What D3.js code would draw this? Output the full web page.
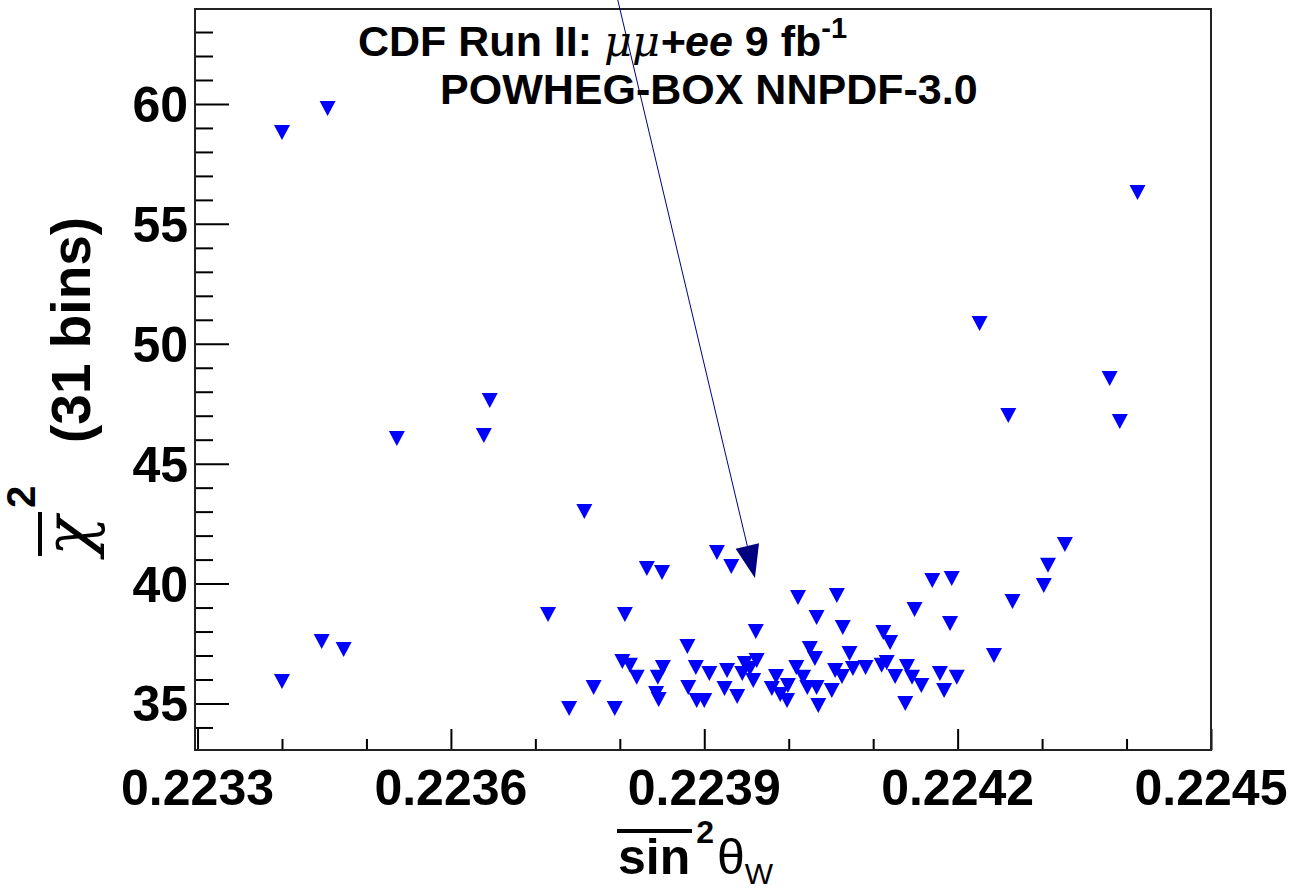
<!DOCTYPE html>
<html>
<head>
<meta charset="utf-8">
<script src="https://cdn.jsdelivr.net/npm/d3@7"></script>
<style>
  body { margin: 0; background: #fff; }
  text { font-family: "Liberation Sans", Arial, sans-serif; }
</style>
</head>
<body>
<div id="chart"></div>
<script>
// sin^2 theta_w values of each template and the chi2 of the fit (31 bins)
const sin2w = [
  0.223400, 0.223454, 0.224413, 0.224226, 0.224380, 0.224392, 0.224260, 0.223536,
  0.223639, 0.223646, 0.223758, 0.223400, 0.223447, 0.223473, 0.223715, 0.223740,
  0.223769, 0.223794, 0.223806, 0.223832, 0.223850, 0.223915, 0.223932, 0.224327,
  0.224307, 0.224302, 0.224265, 0.224243, 0.224193, 0.224170, 0.224149, 0.224191,
  0.224011, 0.224057, 0.223961, 0.224033, 0.224064, 0.224112, 0.224120, 0.224072,
  0.224025, 0.224031, 0.223880, 0.223803, 0.223812, 0.223820, 0.223851, 0.223845,
  0.223843, 0.223846, 0.223890, 0.223906, 0.223881, 0.223891, 0.223900, 0.223927,
  0.223948, 0.223954, 0.223962, 0.223945, 0.223958, 0.223924, 0.223939, 0.223985,
  0.223980, 0.223990, 0.223999, 0.223998, 0.224009, 0.224017, 0.224022, 0.224033,
  0.224051, 0.224055, 0.224035, 0.224063, 0.224076, 0.224091, 0.224110, 0.224116,
  0.224126, 0.224140, 0.224146, 0.224157, 0.224179, 0.224199, 0.224184, 0.224138
];
const chi2 = [
  58.83, 59.83, 56.33, 50.87, 48.57, 46.78, 47.03, 46.07,
  46.20, 47.66, 43.03, 35.94, 37.61, 37.27, 38.73, 34.81,
  35.69, 34.81, 38.73, 40.65, 40.48, 41.32, 40.73, 41.65,
  40.78, 39.94, 39.27, 37.02, 40.23, 40.15, 38.94, 38.36,
  39.44, 39.52, 38.02, 38.61, 38.19, 37.98, 37.56, 37.11,
  37.31, 36.90, 37.40, 36.77, 36.61, 36.11, 36.52, 36.11,
  35.44, 35.19, 36.52, 36.27, 35.69, 35.15, 35.15, 36.40,
  36.69, 36.48, 36.81, 36.27, 35.98, 35.65, 35.31, 36.15,
  35.65, 35.40, 35.77, 35.15, 36.52, 36.11, 35.69, 35.69,
  35.56, 36.40, 34.94, 36.15, 36.48, 36.52, 36.61, 36.73,
  36.15, 36.56, 36.11, 35.77, 36.27, 36.11, 35.56, 35.02
];

// axis ticks
const xMajorTicks = [0.2233, 0.2236, 0.2239, 0.2242, 0.2245];
const xMinorTicks = [0.2234, 0.2235, 0.2237, 0.2238, 0.2240, 0.2241, 0.2243, 0.2244];
const yMajorTicks = [35, 40, 45, 50, 55, 60];
const yMinorTicks = [34, 36, 37, 38, 39, 41, 42, 43, 44, 46, 47, 48, 49, 51, 52, 53, 54,
                     56, 57, 58, 59, 61, 62, 63];

// arrow pointing at the minimum (from -> to, data units)
const arrowFrom = [0.223797, 64.42];
const arrowTo = [0.223960, 40.23];

const width = 1295, height = 890;
const frame = { left: 195, right: 1211, top: 9, bottom: 750 };

const svg = d3.select("#chart").append("svg")
  .attr("width", width)
  .attr("height", height)
  .style("background", "#fff");

const x = d3.scaleLinear().domain([0.223297, 0.2245]).range([frame.left, frame.right]);
const y = d3.scaleLinear().domain([33.06, 63.96]).range([frame.bottom, frame.top]);

// ticks (ROOT style: pointing inside, only on bottom and left)
const xAxis = svg.append("g").attr("transform", `translate(0,${frame.bottom})`);
xAxis.append("g")
  .call(d3.axisBottom(x).tickValues(xMinorTicks).tickSize(-11).tickFormat(""));
xAxis.append("g")
  .call(d3.axisBottom(x).tickValues(xMajorTicks).tickSize(-21).tickFormat(""));
xAxis.selectAll(".domain").remove();
xAxis.selectAll("line").attr("stroke", "#000").attr("stroke-width", 2);

const yAxis = svg.append("g").attr("transform", `translate(${frame.left},0)`);
yAxis.append("g")
  .call(d3.axisLeft(y).tickValues(yMinorTicks).tickSize(-18).tickFormat(""));
yAxis.append("g")
  .call(d3.axisLeft(y).tickValues(yMajorTicks).tickSize(-34).tickFormat(""));
yAxis.selectAll(".domain").remove();
yAxis.selectAll("line").attr("stroke", "#000").attr("stroke-width", 2);

// tick labels
svg.append("g").selectAll("text")
  .data(xMajorTicks)
  .join("text")
  .attr("x", d => x(d))
  .attr("y", 805)
  .attr("text-anchor", "middle")
  .attr("font-size", 50)
  .attr("font-weight", "bold")
  .text(d => d3.format(".4f")(d));

svg.append("g").selectAll("text")
  .data(yMajorTicks)
  .join("text")
  .attr("x", frame.left - 7)
  .attr("y", d => y(d))
  .attr("dy", "0.36em")
  .attr("text-anchor", "end")
  .attr("font-size", 50)
  .attr("font-weight", "bold")
  .text(d => d);

// frame
svg.append("rect")
  .attr("x", frame.left)
  .attr("y", frame.top)
  .attr("width", frame.right - frame.left)
  .attr("height", frame.bottom - frame.top)
  .attr("fill", "none")
  .attr("stroke", "#222")
  .attr("stroke-width", 2);

// markers: full triangle down
const tri = "M-8,-7L8,-7L0,8Z";
svg.append("g").selectAll("path")
  .data(d3.zip(sin2w, chi2))
  .join("path")
  .attr("d", tri)
  .attr("transform", d => `translate(${x(d[0])},${y(d[1])})`)
  .attr("fill", "#0000ff");

// arrow
const ax0 = x(arrowFrom[0]), ay0 = y(arrowFrom[1]);
const ax1 = x(arrowTo[0]), ay1 = y(arrowTo[1]);
const ang = Math.atan2(ay1 - ay0, ax1 - ax0);
const headLen = 33, headHalf = 12;
const bx = ax1 - Math.cos(ang) * headLen, by = ay1 - Math.sin(ang) * headLen;
svg.append("line")
  .attr("x1", ax0).attr("y1", ay0)
  .attr("x2", bx).attr("y2", by)
  .attr("stroke", "#000080")
  .attr("stroke-width", 1);
svg.append("path")
  .attr("d", `M${ax1},${ay1}L${bx - Math.sin(ang) * headHalf},${by + Math.cos(ang) * headHalf}` +
             `L${bx + Math.sin(ang) * headHalf},${by - Math.cos(ang) * headHalf}Z`)
  .attr("fill", "#000080");

// header text
const t1 = svg.append("text")
  .attr("x", 358).attr("y", 56)
  .attr("font-size", 43).attr("font-weight", "bold");
t1.append("tspan").text("CDF Run II: ");
t1.append("tspan").attr("font-style", "italic").attr("font-weight", "normal")
  .attr("font-family", "DejaVu Serif").text("μμ");
t1.append("tspan").attr("font-style", "italic").text("+ee");
t1.append("tspan").text(" 9 fb");
t1.append("tspan").attr("font-size", 29).attr("dy", -18).text("-1");

svg.append("text")
  .attr("x", 440).attr("y", 104)
  .attr("font-size", 43).attr("font-weight", "bold")
  .text("POWHEG-BOX NNPDF-3.0");

// x axis title: overline sin ^2 theta_W
const xt = svg.append("text").attr("x", 618).attr("y", 874).attr("font-size", 50).attr("font-weight", "bold");
xt.append("tspan").text("sin");
xt.append("tspan").attr("font-size", 32).attr("dy", -31).attr("dx", 6).text("2");
xt.append("tspan").attr("font-size", 50).attr("font-weight", "normal").attr("dy", 31).attr("dx", 3).text("θ");
xt.append("tspan").attr("font-size", 30).attr("font-weight", "normal").attr("dy", 10).text("W");
svg.append("line")
  .attr("x1", 617).attr("x2", 692).attr("y1", 831).attr("y2", 831)
  .attr("stroke", "#000").attr("stroke-width", 4);

// y axis title: overline chi ^2 (31 bins)
const yt = svg.append("g").attr("transform", "translate(90,556) rotate(-90)");
const ytt = yt.append("text").attr("x", 0).attr("y", 0);
ytt.append("tspan").attr("font-size", 66).attr("font-family", "DejaVu Serif")
  .attr("font-style", "italic").text("χ");
ytt.append("tspan").attr("font-size", 40).attr("font-weight", "bold").attr("dy", -55).attr("dx", 8).text("2");
ytt.append("tspan").attr("font-size", 55).attr("font-weight", "bold").attr("dy", 55).attr("x", 113).text("(31 bins)");
yt.append("line")
  .attr("x1", 0).attr("x2", 44).attr("y1", -50).attr("y2", -50)
  .attr("stroke", "#000").attr("stroke-width", 4);
</script>
</body>
</html>
